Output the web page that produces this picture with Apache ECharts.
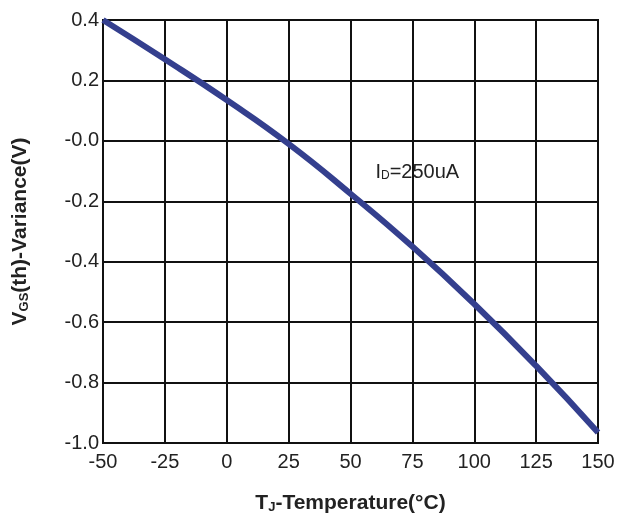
<!DOCTYPE html>
<html>
<head>
<meta charset="utf-8">
<script src="https://cdn.jsdelivr.net/npm/echarts@6/dist/echarts.min.js"></script>
<style>
  html, body { margin: 0; padding: 0; background: #fff; }
  #chart { width: 618px; height: 515px; }
</style>
</head>
<body>
<div id="chart"></div>
<script>
// datos
var temperaturas = [-50, -25, 0, 25, 50, 75, 100, 125, 150];
var variacion = [0.4, 0.27, 0.135, -0.01, -0.175, -0.35, -0.54, -0.745, -0.965];
var notaPos = [77, -0.105];

var chartDom = document.getElementById("chart");
var myChart = echarts.init(chartDom);

var fuente = "Liberation Sans, Arial, sans-serif";
var negro = "#111";

var option = {
    animation: false,
    backgroundColor: "#fff",
    grid: {
        left: 103, right: 20, top: 20, bottom: 72,
        outerBoundsMode: "none",
        show: true, borderColor: negro, borderWidth: 2
    },
    xAxis: {
        type: "value",
        min: -50,
        max: 150,
        interval: 25,
        axisLine: { lineStyle: { color: negro, width: 2 } },
        axisTick: { show: false },
        splitLine: { lineStyle: { color: negro, width: 2 } },
        axisLabel: { color: "#222", fontSize: 20, fontFamily: fuente, margin: 9 },
        name: "{b|T}{s|J}{b|-Temperature(°C)}",
        nameLocation: "middle",
        nameGap: 50,
        nameTextStyle: {
            rich: {
                b: { fontSize: 21, fontWeight: "bold", fontFamily: fuente, color: "#222" },
                s: { fontSize: 13, fontWeight: "bold", fontFamily: fuente, color: "#222", padding: [7, 0, 0, 0] }
            }
        }
    },
    yAxis: {
        type: "value",
        min: -1.0,
        max: 0.4,
        interval: 0.2,
        axisLine: { lineStyle: { color: negro, width: 2 } },
        axisTick: { show: false },
        splitLine: { lineStyle: { color: negro, width: 2 } },
        axisLabel: {
            color: "#222", fontSize: 20, fontFamily: fuente, margin: 4,
            formatter: function (v) {
                var r = Math.round(v * 10) / 10;
                return r === 0 ? "-0.0" : r.toFixed(1);
            }
        },
        name: "{b|V}{s|GS}{b|(th)-Variance(V)}",
        nameLocation: "middle",
        nameGap: 72,
        nameTextStyle: {
            rich: {
                b: { fontSize: 21, fontWeight: "bold", fontFamily: fuente, color: "#222" },
                s: { fontSize: 13, fontWeight: "bold", fontFamily: fuente, color: "#222", padding: [7, 0, 0, 0] }
            }
        }
    },
    series: [
        {
            type: "line",
            data: temperaturas.map(function (t, i) { return [t, variacion[i]]; }),
            smooth: true,
            symbol: "none",
            lineStyle: { color: "#343f8e", width: 6 },
            markPoint: {
                symbol: "circle",
                symbolSize: 0,
                data: [{ coord: notaPos }],
                label: {
                    show: true,
                    position: "inside",
                    formatter: "{n|I}{s|D}{n|=250uA}",
                    rich: {
                        n: { fontSize: 20, fontFamily: fuente, color: "#222" },
                        s: { fontSize: 12, fontFamily: fuente, color: "#222", padding: [6, 0, 0, 0] }
                    }
                }
            }
        }
    ]
};

myChart.setOption(option);
</script>
</body>
</html>
